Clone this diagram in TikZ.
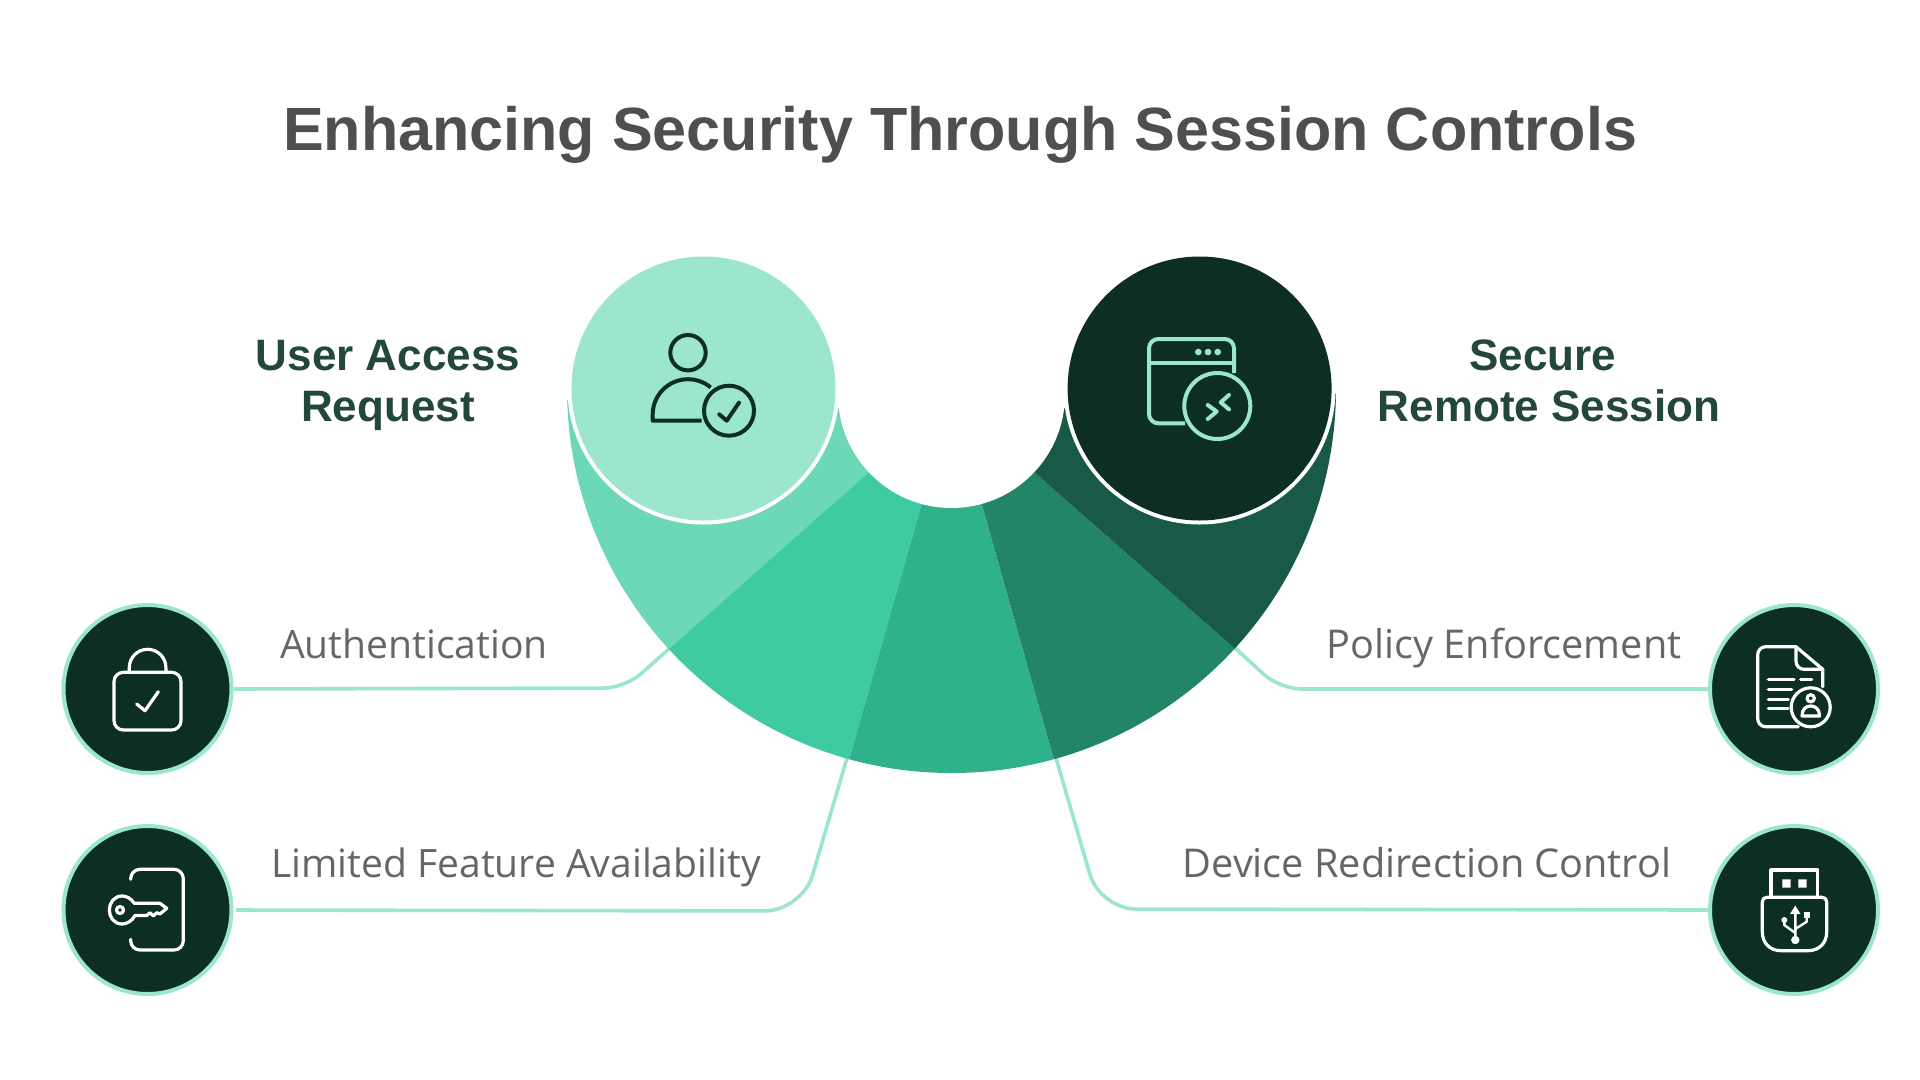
\documentclass[tikz,border=0pt]{standalone}
\usepackage{fontspec}
\setmainfont{Open Sans}
\newfontfamily\semib{Liberation Sans Bold}
\definecolor{mintl}{HTML}{9CE6CF}
\definecolor{deep}{HTML}{0D2E25}
\definecolor{segA}{HTML}{6CD8B8}
\definecolor{segB}{HTML}{3FCBA2}
\definecolor{segC}{HTML}{2FB18B}
\definecolor{segD}{HTML}{228568}
\definecolor{segE}{HTML}{185A47}
\definecolor{headc}{HTML}{24473C}
\definecolor{titlec}{HTML}{4F4F4F}
\definecolor{labelc}{HTML}{666666}
\tikzset{
  x=0.75pt,y=-0.75pt,
  bigdisc/.style={circle,minimum size=198pt,inner sep=0pt},
  ringgap/.style={circle,minimum size=204pt,inner sep=0pt,fill=white},
  smalldisc/.style={circle,minimum size=126pt,inner sep=0pt,fill=deep,draw=mintl,line width=3pt},
  conn/.style={draw=mintl,line width=2.7pt,line join=round},
  iconw/.style={draw=white,line width=2.4pt,line cap=round,line join=round},
  icond/.style={draw=deep,line width=3pt,line cap=round,line join=round},
  iconm/.style={draw=mintl,line width=3pt,line cap=round,line join=round},
  titletext/.style={anchor=base,inner sep=0pt,text=titlec,font=\semib\fontsize{45.8}{52}\selectfont},
  headtext/.style={anchor=base,inner sep=0pt,text=headc,font=\semib\fontsize{33}{37}\selectfont},
  labeltext/.style={anchor=base,inner sep=0pt,text=labelc,font=\fontsize{29.3}{35}\selectfont},
  labelwide/.style={labeltext,font=\fontsize{29.75}{35}\selectfont},
}
\begin{document}
\begin{tikzpicture}
\path[fill=white,use as bounding box] (0,0) rectangle (1920,1079);
% small discs
\node[smalldisc] (c1) at (147.5,689) {};
\node[smalldisc] (c2) at (147.5,910) {};
\node[smalldisc] (c3) at (1794,689) {};
\node[smalldisc] (c4) at (1794,910) {};
% connector ends, under the ring
\coordinate (e1) at (670,648);
\coordinate (e2) at (847,758);
\coordinate (e3) at (1234,647);
\coordinate (e4) at (1056,758);
\draw[conn,rounded corners=16pt] (c1.east) -- (625,688) -- (e1);
\draw[conn,rounded corners=28pt,shorten <=2pt] (c2.east) -- (802,911) -- (e2);
\draw[conn,rounded corners=16pt] (c3.west) -- (1280,689) -- (e3);
\draw[conn,rounded corners=27pt] (c4.west) -- (1100,909) -- (e4);
% ring
\begin{scope}
\clip (567,388.5) arc[start angle=180,end angle=0,radius=384.5] -- cycle;
\fill[segA] (951.5,440) -- (900,444.7) -- (600,710) -- (540,710) -- (540,380) -- (951.5,380) -- cycle;
\fill[segB] (951.5,440) -- (900,444.7) -- (600,710) -- (600,800) -- (837.6,800) -- (921.4,505) -- cycle;
\fill[segC] (951.5,440) -- (921.4,505) -- (837.6,800) -- (1065.4,800) -- (982,505) -- cycle;
\fill[segD] (951.5,440) -- (982,505) -- (1065.4,800) -- (1300,800) -- (1300,706) -- (1003,444.7) -- cycle;
\fill[segE] (951.5,440) -- (1003,444.7) -- (1300,706) -- (1360,706) -- (1360,380) -- (951.5,380) -- cycle;
\end{scope}
\fill[white] (951.5,394.5) circle[radius=113.5];
\fill[white] (560,380) rectangle (575,400) (832,380) rectangle (845,408) (1058,380) rectangle (1071,408) (1328,380) rectangle (1340,393);
% big discs
\node[ringgap] (g1) at (703.5,388.5) {};
\node[ringgap] (g2) at (1199.6,388.5) {};
\node[bigdisc,fill=mintl] (b1) at (703.5,388.5) {};
\node[bigdisc,fill=deep] (b2) at (1199.6,388.5) {};
% person icon
\draw[icond] (688,352.7) circle[radius=17.7];
\draw[icond,line cap=butt] (701.7,420.7) -- (652.7,420.7) -- (652.7,414.5) arc[start angle=180,end angle=310,radius=35.3];
\draw[icond] (729,410.7) circle[radius=25];
\draw[icond] (719.3,414.3) -- (726.7,420.7) -- (739,402.7);
% window icon
\draw[iconm,line cap=butt,rounded corners=7pt] (1185,423.3) -- (1149,423.3) -- (1149,339) -- (1234,339) -- (1234,373);
\draw[iconm,line cap=butt] (1149,362.7) -- (1234,362.7);
\fill[mintl] (1198.3,352) circle[radius=3.3] (1208,352) circle[radius=3.3] (1217.7,352) circle[radius=3.3];
\draw[iconm] (1217.3,406) circle[radius=33];
\draw[iconm] (1207.7,405) -- (1216.7,411.5) -- (1207.7,419);
\draw[iconm] (1229,395) -- (1220.7,402.3) -- (1229,409.3);
% lock icon
\draw[iconw,rounded corners=7pt] (114,672.3) rectangle (181,730);
\draw[iconw] (129.3,672) -- (129.3,667.6) arc[start angle=180,end angle=360,radius=18.3] -- (165.9,672);
\draw[iconw] (136.7,704) -- (145,710.7) -- (158.3,691.7);
% key icon
\draw[iconw,rounded corners=7pt] (130.7,879.3) -- (130.7,869.3) -- (183.3,869.3) -- (183.3,950) -- (130.7,950) -- (130.7,939.3);
\draw[iconw] (120,910) circle[radius=3.5];
\draw[iconw] (134.3,903.3) .. controls (131,898) and (126,896) .. (122,896) .. controls (114,896) and (109.3,903) .. (109.3,910) .. controls (109.3,917) and (114,924) .. (122,924) .. controls (127,924) and (132,921) .. (135,915.5) -- (146.7,915.5) -- (150,912.7) -- (153.3,916) -- (156.7,912.7) -- (160,914) -- (166.7,908.3) -- (160,903.3) -- cycle;
% document icon
\draw[iconw,rounded corners=6pt] (1798.3,726.7) -- (1757.7,726.7) -- (1757.7,646.7) -- (1796,646.7);
\draw[iconw] (1796,646.7) -- (1822.7,669.3) -- (1822.7,686.7);
\draw[iconw,rounded corners=6pt] (1796,646.7) -- (1796,669.3) -- (1822.7,669.3);
\draw[iconw] (1768.3,679.3) -- (1794,679.3) (1800.7,679.3) -- (1811.7,679.3) (1768.3,689.3) -- (1791.7,689.3) (1768.3,699.3) -- (1788.3,699.3) (1768.3,708.7) -- (1788,708.7);
\draw[iconw] (1810.7,707.3) circle[radius=19.5];
\draw[iconw] (1810.7,698.3) circle[radius=3.6];
\draw[iconw] (1802,716) .. controls (1802,709) and (1806,706) .. (1810.7,706) .. controls (1815.5,706) and (1819.5,709) .. (1819.5,716) -- cycle;
% usb icon
\draw[iconw] (1771,896.7) -- (1771,870) -- (1817.7,870) -- (1817.7,896.7);
\fill[white] (1782.3,879.3) rectangle (1790.7,887.7) (1798.3,879.3) rectangle (1806.7,887.7);
\draw[iconw] (1767,897.3) -- (1822,897.3) .. controls (1825,897.3) and (1826.7,899) .. (1826.7,902) -- (1826.7,932) .. controls (1826.7,943) and (1819,950.7) .. (1808,950.7) -- (1781,950.7) .. controls (1770,950.7) and (1762.3,943) .. (1762.3,932) -- (1762.3,902) .. controls (1762.3,899) and (1764,897.3) .. (1767,897.3) -- cycle;
\draw[iconw,line width=1.8pt] (1795.3,910) -- (1795.3,939) (1784.3,920) -- (1784.3,925) -- (1795.3,933) (1806.7,915) -- (1806.7,921.7) -- (1795.3,929);
\fill[white] (1795.3,905.5) -- (1800.5,914) -- (1790,914) -- cycle;
\fill[white] (1795.3,940) circle[radius=4.2] (1784.3,920) circle[radius=3];
\fill[white] (1803.5,912) rectangle (1809.9,918);
% texts
\node[titletext] (t0) at (960,150) {Enhancing Security Through Session Controls};
\node[headtext] (t1) at (388,370) {User Access};
\node[headtext] (t2) at (388,421.7) {Request};
\node[headtext] (t3) at (1543,370) {Secure};
\node[headtext] (t4) at (1549,421.7) {Remote Session};
\node[labeltext] (l1) at (414,658) {Authentication};
\node[labeltext] (l2) at (516,877) {Limited Feature Availability};
\node[labelwide] (l3) at (1504,658) {Policy Enforcement};
\node[labelwide] (l4) at (1427,877) {Device Redirection Control};
\end{tikzpicture}
\end{document}
